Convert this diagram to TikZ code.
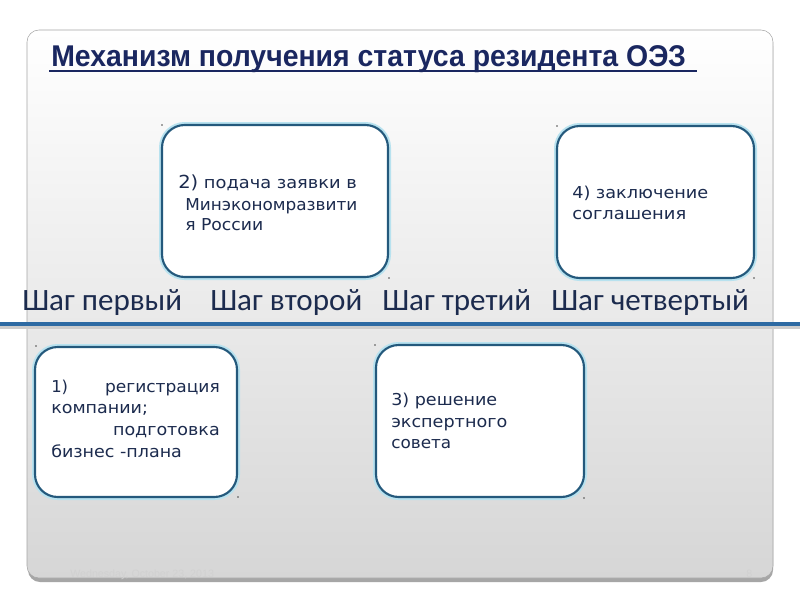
\documentclass[tikz,border=0pt]{standalone}
\usepackage{fontspec}
\setmainfont{Liberation Sans}
\newfontfamily\stepf{Carlito}
\newfontfamily\boxf{DejaVu Sans}
\newcommand\fitw[2]{\resizebox{#1}{\height}{#2}}
\definecolor{titlec}{HTML}{1A2760}
\definecolor{navy}{HTML}{1C2B4E}
\definecolor{boxline}{HTML}{24597C}
\definecolor{glow}{HTML}{B8E2EF}
\definecolor{rule}{HTML}{2D6AA3}
\definecolor{panelbot}{HTML}{D6D6D6}
\begin{document}
\begin{tikzpicture}[x=0.75pt,y=-0.75pt,
  stepbox/.style={draw=boxline, line width=1.6pt, rounded corners=17pt, fill=white, inner sep=0pt,
    preaction={draw=glow, line width=4.5pt}},
  boxtxt/.style={anchor=base west, inner sep=0pt, text=navy, font=\boxf\fontsize{12.3pt}{14pt}\selectfont},
  boxtxtr/.style={boxtxt, anchor=base east},
  steplbl/.style={anchor=base west, inner sep=0pt, text=navy, font=\stepf\fontsize{23.3pt}{26pt}\selectfont},
  tinydot/.style={fill=black!70, circle, inner sep=0pt, minimum size=1.2pt},
  foot/.style={anchor=base west, inner sep=0pt, text=black!18, font=\fontsize{8pt}{9pt}\selectfont}
]
\useasboundingbox (0,0) rectangle (800,600);
\fill[white] (0,0) rectangle (800,600);
% panel with shadow
\fill[black!35, rounded corners=9pt] (28,34) rectangle (773,582);
\shade[top color=white, bottom color=panelbot, draw=black!35, rounded corners=9pt] (27,30) rectangle (773,578);
% title
\node[anchor=base west, inner sep=0pt, text=titlec, font=\bfseries\fontsize{22.5pt}{26pt}\selectfont] (title) at (51,66)
  {\fitw{476pt}{Механизм получения статуса резидента ОЭЗ}};
\coordinate (ulA) at (49,70.5);
\coordinate (ulB) at (697,70.5);
\draw[titlec, line width=1.5pt] (ulA) -- (ulB);
% horizontal rule
\coordinate (rA) at (0,327);
\coordinate (rB) at (800,327);
\coordinate (rC) at (0,324);
\coordinate (rD) at (800,324);
\draw[black!20, line width=3pt] (rA) -- (rB);
\draw[rule, line width=2.5pt] (rC) -- (rD);
% boxes
\node[stepbox, minimum width=169.5pt, minimum height=114pt] (b2) at (275,201) {};
\node[stepbox, minimum width=147.75pt, minimum height=114pt] (b4) at (655.5,202) {};
\node[stepbox, minimum width=151.5pt, minimum height=112.5pt] (b1) at (136,422) {};
\node[stepbox, minimum width=156pt, minimum height=114pt] (b3) at (480,421) {};
% dots
\node[tinydot] (d1) at (162,125) {};
\node[tinydot] (d2) at (389,278) {};
\node[tinydot] (d3) at (557,126) {};
\node[tinydot] (d4) at (754,278) {};
\node[tinydot] (d5) at (36,346) {};
\node[tinydot] (d6) at (238,497) {};
\node[tinydot] (d7) at (375,345) {};
\node[tinydot] (d8) at (584,498) {};
% box texts
\node[boxtxt] (t2a) at (178,188) {\fitw{134pt}{\fontsize{13.5pt}{15pt}\selectfont 2)\fontsize{12.3pt}{14pt}\selectfont{} подача заявки в}};
\node[boxtxt] (t2b) at (185,210) {\fitw{129pt}{Минэкономразвити}};
\node[boxtxt] (t2c) at (185,230) {\fitw{58.5pt}{я России}};
\node[boxtxt] (t4a) at (572,198) {\fitw{102pt}{4) заключение}};
\node[boxtxt] (t4b) at (572,219) {\fitw{85.5pt}{соглашения}};
\node[boxtxt] (t1a) at (51,392) {1)};
\node[boxtxtr] (t1b) at (220,392) {\fitw{86pt}{регистрация}};
\node[boxtxt] (t1c) at (51,413) {\fitw{72.5pt}{компании;}};
\node[boxtxtr] (t1d) at (220,435) {\fitw{80pt}{подготовка}};
\node[boxtxt] (t1e) at (51,457) {\fitw{98pt}{бизнес -плана}};
\node[boxtxt] (t3a) at (391,405) {\fitw{79.5pt}{3) решение}};
\node[boxtxt] (t3b) at (391,427) {\fitw{87pt}{экспертного}};
\node[boxtxt] (t3c) at (391,448) {\fitw{45pt}{совета}};
% step labels
\node[steplbl] (s1) at (22,310) {Шаг первый};
\node[steplbl] (s2) at (210,310) {Шаг второй};
\node[steplbl] (s3) at (382,310) {Шаг третий};
\node[steplbl] (s4) at (551,310) {Шаг четвертый};
% footer
\node[foot] (f1) at (70,577) {Wednesday, October 23, 2013};
\node[foot] (f2) at (746,577) {8};
\end{tikzpicture}
\end{document}
